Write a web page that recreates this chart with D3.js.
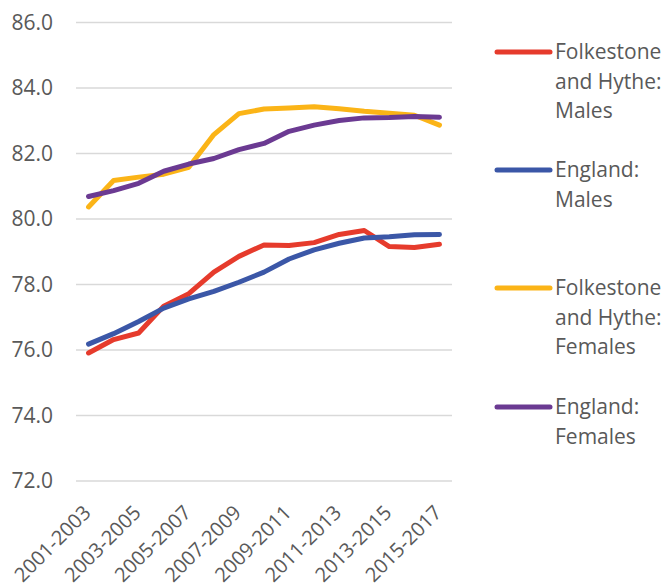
<!DOCTYPE html>
<html>
<head>
<meta charset="utf-8">
<script src="https://cdn.jsdelivr.net/npm/d3@7/dist/d3.min.js"></script>
<style>
  html, body { margin: 0; padding: 0; background: #fff; }
  svg { display: block; font-family: "Open Sans", sans-serif; }
</style>
</head>
<body>
<svg id="chart" width="661" height="586"></svg>
<script>
// Three-year life expectancy periods
const periods = [
  "2001-2003", "2002-2004", "2003-2005", "2004-2006", "2005-2007",
  "2006-2008", "2007-2009", "2008-2010", "2009-2011", "2010-2012",
  "2011-2013", "2012-2014", "2013-2015", "2014-2016", "2015-2017"
];

// Life expectancy at birth (years)
const folkestoneMales   = [75.91, 76.32, 76.52, 77.34, 77.72, 78.38, 78.86, 79.21, 79.19, 79.28, 79.53, 79.65, 79.16, 79.13, 79.23];
const englandMales      = [76.18, 76.50, 76.87, 77.28, 77.56, 77.79, 78.07, 78.38, 78.78, 79.06, 79.26, 79.42, 79.46, 79.52, 79.53];
const folkestoneFemales = [80.37, 81.18, 81.28, 81.37, 81.58, 82.58, 83.22, 83.36, 83.39, 83.43, 83.37, 83.29, 83.23, 83.17, 82.87];
const englandFemales    = [80.69, 80.87, 81.09, 81.46, 81.68, 81.85, 82.12, 82.31, 82.68, 82.87, 83.01, 83.09, 83.10, 83.13, 83.11];

const yTicks = [72, 74, 76, 78, 80, 82, 84, 86];
const xTickLabels = ["2001-2003", "2003-2005", "2005-2007", "2007-2009", "2009-2011", "2011-2013", "2013-2015", "2015-2017"];

const seriesNames = [
  ["Folkestone", "and Hythe:", "Males"],
  ["England:", "Males"],
  ["Folkestone", "and Hythe:", "Females"],
  ["England:", "Females"]
];
const seriesColors = ["#E63B2C", "#3B57A7", "#FBB417", "#6B3A92"];
const seriesValues = [folkestoneMales, englandMales, folkestoneFemales, englandFemales];

const svg = d3.select("#chart");
const textColor = "#595959";

const plotLeft = 76, plotRight = 452;
const x = d3.scalePoint().domain(periods).range([plotLeft, plotRight]).padding(0.5);
const y = d3.scaleLinear().domain([72, 86]).range([481, 22.6]);

// Horizontal gridlines
svg.append("g")
  .selectAll("line")
  .data(yTicks)
  .join("line")
  .attr("x1", plotLeft).attr("x2", plotRight)
  .attr("y1", d => y(d)).attr("y2", d => y(d))
  .attr("stroke", "#D9D9D9")
  .attr("stroke-width", 1.5);

// Y axis labels
const yAxis = d3.axisLeft(y).tickValues(yTicks).tickFormat(d3.format(".1f")).tickSize(0).tickPadding(0);
const yg = svg.append("g").attr("transform", "translate(53,0)").call(yAxis);
yg.select(".domain").remove();
yg.selectAll("text")
  .attr("fill", textColor)
  .style("font-size", "21px")
  .style("font-family", "'Open Sans', sans-serif");

// X axis labels, rotated
const xAxis = d3.axisBottom(x).tickValues(xTickLabels).tickSize(0).tickPadding(0);
const xg = svg.append("g").attr("transform", "translate(0,490)").call(xAxis);
xg.select(".domain").remove();
xg.selectAll("text")
  .attr("fill", textColor)
  .style("font-size", "20px")
  .style("font-family", "'Open Sans', sans-serif")
  .attr("text-anchor", "end")
  .attr("dy", "0.35em")
  .attr("transform", "translate(-2,19) rotate(-45)");

// Series lines
const line = d3.line()
  .x((d, i) => x(periods[i]))
  .y(d => y(d));

svg.append("g")
  .selectAll("path")
  .data(seriesValues)
  .join("path")
  .attr("d", line)
  .attr("fill", "none")
  .attr("stroke", (d, i) => seriesColors[i])
  .attr("stroke-width", 5)
  .attr("stroke-linejoin", "round")
  .attr("stroke-linecap", "round");

// Legend
const legendY = [52, 170, 288, 407];
const legend = svg.append("g");
seriesNames.forEach((lines, i) => {
  const g = legend.append("g").attr("transform", `translate(0,${legendY[i]})`);
  g.append("line")
    .attr("x1", 497).attr("x2", 550)
    .attr("y1", 0).attr("y2", 0)
    .attr("stroke", seriesColors[i])
    .attr("stroke-width", 5)
    .attr("stroke-linecap", "round");
  lines.forEach((t, j) => {
    g.append("text")
      .attr("x", 555)
      .attr("y", j * 29.5)
      .attr("dy", "0.35em")
      .attr("fill", textColor)
      .style("font-size", "21px")
      .text(t);
  });
});
</script>
</body>
</html>
